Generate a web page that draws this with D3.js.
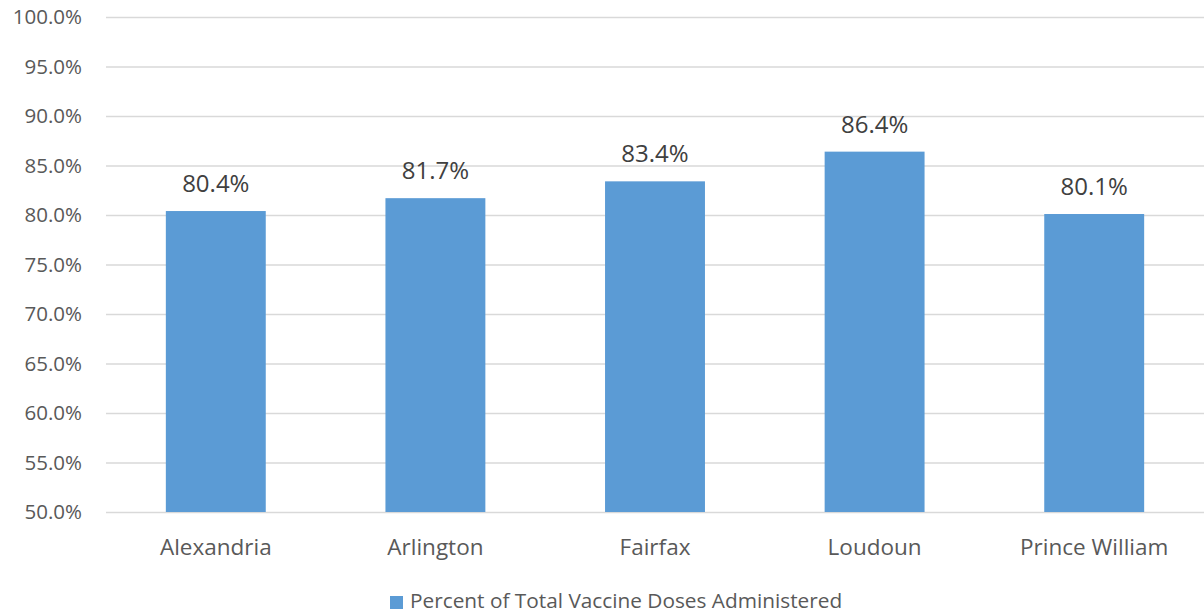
<!DOCTYPE html>
<html><head><meta charset="utf-8">
<script src="https://cdn.jsdelivr.net/npm/d3@7"></script>
<style>body{margin:0;background:#fff}svg{display:block}</style>
</head><body>
<svg id="c" width="1204" height="613"></svg>
<script>
const categories = ["Alexandria","Arlington","Fairfax","Loudoun","Prince William"];
const values = [80.4, 81.7, 83.4, 86.4, 80.1];
const yTicks = [50,55,60,65,70,75,80,85,90,95,100];
const seriesName = "Percent of Total Vaccine Doses Administered";

(function(){
const svg = d3.select("#c");
const font = "'Open Sans', 'Noto Sans', sans-serif";
const mLeft = 106, mRight = 1204, mTop = 17, mBottom = 512;

const x = d3.scaleBand().domain(categories).range([mLeft, mRight]).paddingInner(0.545).paddingOuter(0.2725);
const y = d3.scaleLinear().domain([50,100]).range([mBottom, mTop]);

const yAxis = svg.append("g").attr("transform", `translate(${mLeft},0)`)
  .call(d3.axisLeft(y).tickValues(yTicks).tickSize(-(mRight-mLeft)).tickPadding(24).tickFormat(d => d.toFixed(1) + "%"));
yAxis.select(".domain").remove();
yAxis.selectAll(".tick line").attr("stroke", "#d9d9d9").attr("stroke-width", 1.5);
yAxis.selectAll(".tick text").attr("fill", "#595959").attr("font-size", "20.5px").attr("font-family", font);

svg.append("g").selectAll("rect").data(values).join("rect")
  .attr("x", (d,i) => x(categories[i]))
  .attr("width", x.bandwidth())
  .attr("y", d => y(d))
  .attr("height", d => y(50) - y(d))
  .attr("fill", "#5b9bd5");

svg.append("g").selectAll("text").data(values).join("text")
  .attr("x", (d,i) => x(categories[i]) + x.bandwidth()/2)
  .attr("y", d => y(d) - 19)
  .attr("text-anchor", "middle")
  .attr("fill", "#404040").attr("font-size", "24px").attr("font-family", font)
  .text(d => d.toFixed(1) + "%");

const xAxis = svg.append("g").attr("transform", `translate(0,${mBottom})`)
  .call(d3.axisBottom(x).tickSize(0).tickPadding(27));
xAxis.select(".domain").remove();
xAxis.selectAll(".tick text").attr("fill", "#595959").attr("font-size", "22.5px").attr("font-family", font);

const lg = svg.append("g");
lg.append("rect").attr("x", 390).attr("y", 596).attr("width", 13).attr("height", 13).attr("fill", "#5b9bd5");
lg.append("text").attr("x", 410).attr("y", 608).attr("fill", "#595959").attr("font-size", "20.8px").attr("font-family", font).text(seriesName);
})();
</script>
</body></html>
